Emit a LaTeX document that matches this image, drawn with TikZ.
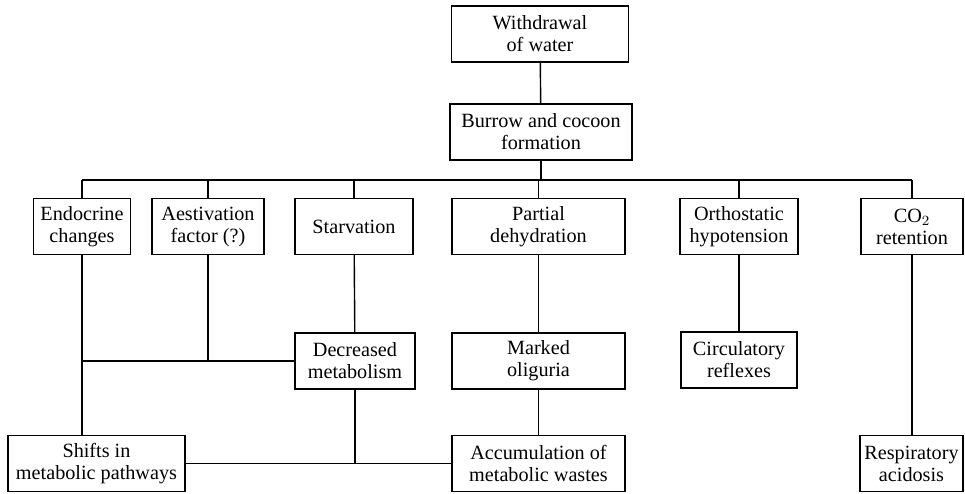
\documentclass[tikz,border=0pt]{standalone}
\usepackage{fontspec}
\setmainfont{Liberation Serif}

\begin{document}
\begin{tikzpicture}[x=0.02cm, y=-0.02cm, line width=0.8pt,
		every node/.style={draw, align=center, inner sep=0pt, minimum height=56*0.02cm, font=\fontsize{11.5}{12.5}\selectfont}]
		\useasboundingbox (0,0) rectangle (965,494);
		
		% Draw the nodes
		\node[minimum width=177*0.02cm] (W) at (540,34) {Withdrawal\\of water};
		\node[minimum width=182*0.02cm] (B) at (541,132) {Burrow and cocoon\\formation};
		
		\node[minimum width=97*0.02cm] (E) at (82,226.5) {Endocrine\\changes};
		\node[minimum width=112*0.02cm] (A) at (208,226.5) {Aestivation\\factor (?)};
		\node[minimum width=118*0.02cm] (S) at (354,226.5) {Starvation};
		\node[minimum width=173*0.02cm] (P) at (538.5,226.5) {Partial\\dehydration};
		\node[minimum width=118*0.02cm] (O) at (739,226.5) {Orthostatic\\hypotension};
		\node[minimum width=102*0.02cm] (C) at (912,226.5) {CO$_2$\\retention};
		
		\node[minimum width=120*0.02cm] (D) at (355,361) {Decreased\\metabolism};
		\node[minimum width=173*0.02cm] (M) at (538.5,361) {Marked\\oliguria};
		\node[minimum width=116*0.02cm] (R) at (739,360) {Circulatory\\reflexes};
		
		\node[minimum width=177*0.02cm] (Sh) at (96.5,463.5) {Shifts in\\metabolic pathways};
		\node[minimum width=173*0.02cm] (Acc) at (538.5,463.5) {Accumulation of\\metabolic wastes};
		\node[minimum width=103*0.02cm] (Resp) at (911.5,463.5) {Respiratory\\acidosis};
		
		% Draw the bus
		\coordinate (busL) at (82,180);
		\coordinate (busR) at (912,180);
		\draw (busL) -- (busR);
		\draw (W) -- (B);
		\draw (B) -- (B |- busL);
		\foreach \n in {E,A,S,P,O,C}
			\draw (\n) -- (\n |- busL);
		
		% Draw the lower edges
		\draw (E) -- (E |- Sh.north);
		\draw (E |- D) -- (D);
		\draw (A) -- (A |- D);
		\draw (S) -- (D);
		\draw (D) -- (D |- Acc);
		\draw (Sh) -- (Acc);
		\draw (P) -- (M);
		\draw (M) -- (Acc);
		\draw (O) -- (R);
		\draw (C) -- (C |- Resp.north);
	\end{tikzpicture}
\end{document}
